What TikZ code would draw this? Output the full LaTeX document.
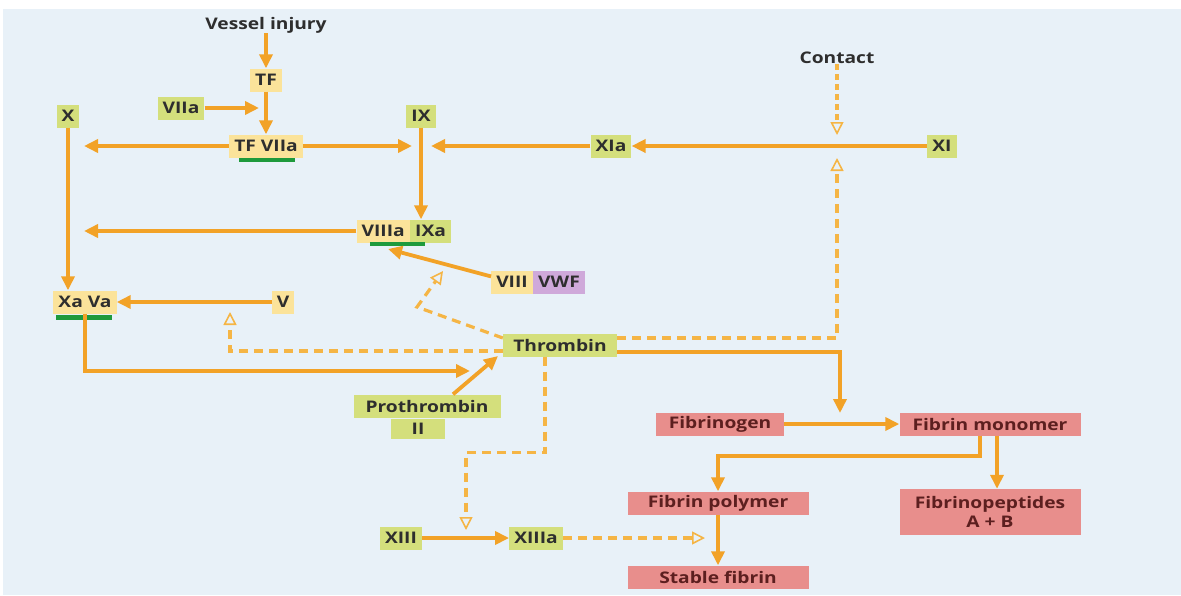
\documentclass[tikz,border=0pt]{standalone}
\usepackage{fontspec}
\setmainfont{Open Sans}[FakeStretch=1.2]
\usepackage{xcolor}
\usetikzlibrary{arrows.meta}

\definecolor{bgblue}{HTML}{E8F1F8}
\definecolor{arr}{HTML}{F2A227}
\definecolor{arrlight}{HTML}{F5B545}
\definecolor{yel}{HTML}{FBE39A}
\definecolor{grn}{HTML}{D4DF7C}
\definecolor{pnk}{HTML}{E88E8C}
\definecolor{prp}{HTML}{CFA9DA}
\definecolor{bar}{HTML}{1E9A3C}
\definecolor{txt}{HTML}{2E2E2E}
\definecolor{txtred}{HTML}{5C1F1F}

\begin{document}
\begin{tikzpicture}
    [x=1pt,y=-1pt,
     every node/.style={font=\fontsize{16}{19}\selectfont\bfseries,text=txt,inner xsep=5pt,inner ysep=0pt,minimum height=23pt},
     yb/.style={fill=yel},
     gb/.style={fill=grn},
     pb/.style={fill=pnk,text=txtred,minimum width=181pt},
     pr/.style={line width=3.8pt,draw=arr,-{Triangle[length=14pt,width=13pt]}},
     dsh/.style={line width=3.2pt,draw=arrlight,dash pattern=on 9pt off 6pt,-{Triangle[open,length=13pt,width=13pt,line width=1.6pt]}}]
    \fill[white] (0,0) rectangle (1181,595);
    \fill[bgblue] (3,9) rectangle (1181,595);
    \useasboundingbox (0,0) rectangle (1181,595);

    \node[minimum height=0pt] (vessel) at (266,25) {Vessel injury};
    \node[minimum height=0pt] (contact) at (837,58) {Contact};
    \node[yb] (tf) at (266,80) {TF};
    \node[gb] (viia) at (181,108) {VIIa};
    \node[yb] (tf-viia) at (266,146) {TF VIIa};
    \node[gb] (x) at (68,116) {X};
    \node[gb] (ix) at (421,116) {IX};
    \node[gb] (xia) at (611,146) {XIa};
    \node[gb] (xi) at (942,146) {XI};
    \node[yb,anchor=east] (viiia) at (410,231) {VIIIa};
    \node[gb,anchor=west] (ixa) at (viiia.east) {IXa};
    \node[yb,anchor=east] (viii) at (533,282) {VIII};
    \node[fill=prp,anchor=west] (vwf) at (viii.east) {VWF};
    \node[yb] (xa-va) at (85,302) {Xa Va};
    \node[yb] (v) at (283,302) {V};
    \node[gb,minimum width=114pt] (thrombin) at (560,345) {Thrombin};
    \node[gb,minimum width=147pt] (prothrombin) at (427,406) {Prothrombin};
    \node[gb,minimum width=54pt,minimum height=20pt] (ii) at (418,429) {II};
    \node[gb] (xiii) at (401,538) {XIII};
    \node[gb] (xiiia) at (536,538) {XIIIa};
    % fibrine
    \node[pb,minimum width=128pt] (fibrinogen) at (720,424) {Fibrinogen};
    \node[pb] (monomer) at (990,424) {Fibrin monomer};
    \node[pb] (polymer) at (718,503) {Fibrin polymer};
    \node[pb,minimum height=46pt,align=center] (peptides) at (990,512) {Fibrinopeptides\\A + B};
    \node[pb] (stable) at (718,577) {Stable fibrin};

    % complexes
    \fill[bar] (239,158) rectangle (295,162);
    \fill[bar] (370,242) rectangle (425,246);
    \fill[bar] (56,315) rectangle (112,320);

    \coordinate (c-viia) at (259,108);
    \coordinate (c-x1) at (84,146);
    \coordinate (c-ix1) at (412,146);
    \coordinate (c-ix2) at (431,146);
    \coordinate (c-x2) at (84,231);
    \coordinate (c-viiia) at (388,249);
    \coordinate (c-thr1) at (470,371);
    \coordinate (c-thr2) at (498,356);
    \coordinate (c-fib) at (840,413);
    \coordinate (c-xi) at (837,158);
    \coordinate (c-contact) at (837,135);
    \coordinate (c-bend) at (417,307);
    \coordinate (c-viii) at (443,271);
    \coordinate (c-v) at (230,312);
    \coordinate (c-xiii) at (466,530);
    \coordinate (c-poly) at (705,538);

    \foreach \from/\to in {vessel/tf, tf/tf-viia, viia/c-viia,
                           tf-viia/c-x1, tf-viia/c-ix1, xia/c-ix2, xi/xia,
                           viiia/c-x2, v/xa-va, viii/c-viiia,
                           xiii/xiiia, fibrinogen/monomer, polymer/stable}
    \draw[pr] (\from) -- (\to);
    \draw[pr] (x) -- (x |- xa-va.north);
    \draw[pr] (ix) -- (ix |- viiia.north);
    \draw[pr] (xa-va.south) |- (c-thr1);
    \draw[pr] ([xshift=26pt]prothrombin.north) -- (c-thr2);
    \draw[pr] ([yshift=-7pt]thrombin.east) -| (c-fib);
    \draw[pr] ([xshift=-10pt]monomer.south) -- ++(0,20) -| (polymer);
    \draw[pr] ([xshift=7pt]monomer.south) -- ([xshift=7pt]peptides.north);

    % thrombine
    \draw[dsh,dash pattern=on 6pt off 4pt] (contact) -- (c-contact);
    \draw[dsh] ([yshift=7pt]thrombin.east) -| (c-xi);
    \draw[dsh] ([yshift=7pt]thrombin.west) -- (c-bend) -- (c-viii);
    \draw[dsh] ([yshift=-6pt]thrombin.west) -| (c-v);
    \draw[dsh] ([xshift=-15pt]thrombin.south) -- ++(0,96) -| (c-xiii);
    \draw[dsh] (xiiia) -- (c-poly);
\end{tikzpicture}
\end{document}
